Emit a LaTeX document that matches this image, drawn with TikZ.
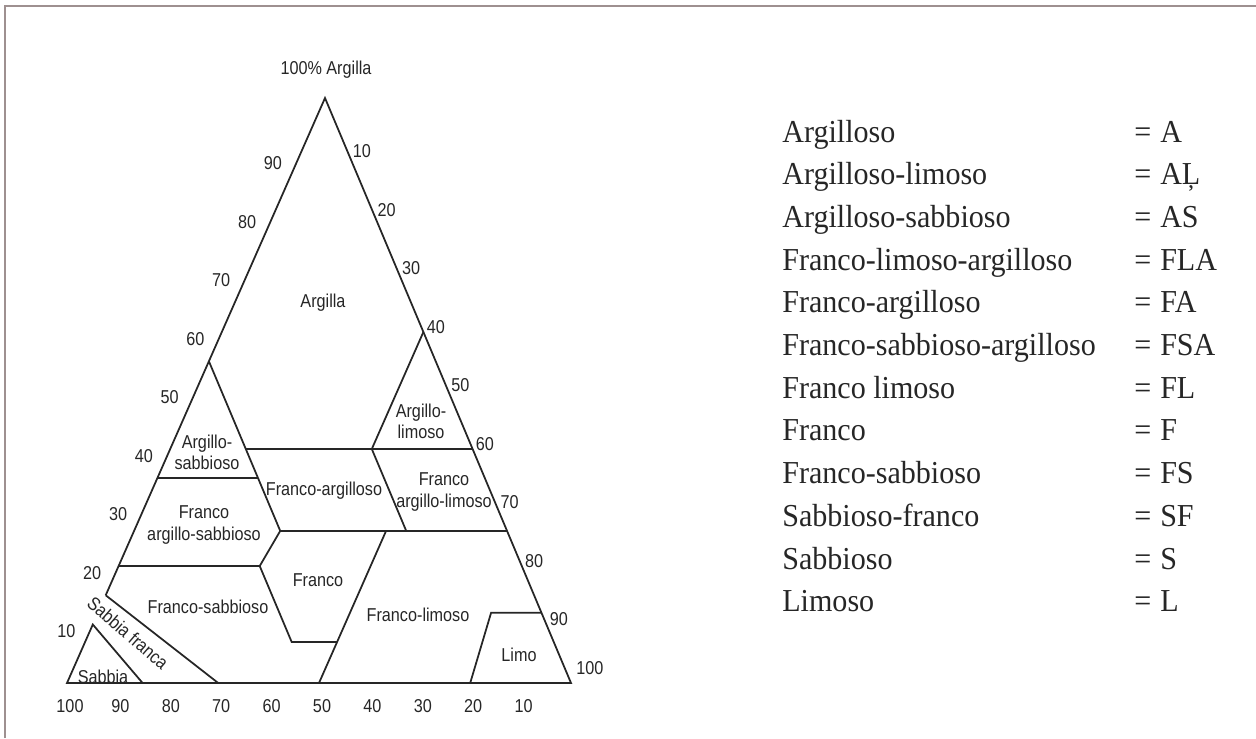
\documentclass[tikz,border=0pt]{standalone}
\usepackage{fontspec}
\setmainfont{Liberation Serif}[FakeStretch=0.94]
\newfontfamily\trifont{Liberation Sans}[FakeStretch=0.87]
\usepackage{tikz}
\usetikzlibrary{calc}
\definecolor{frameGrey}{RGB}{158,144,144}
\tikzstyle{soilBord}=[line width=1pt, line join=miter, color=black!85]
\tikzstyle{soilLabel}=[font=\trifont\fontsize{10.6}{12}\selectfont, align=center, inner sep=0pt, color=black!85]
\tikzstyle{axisNum}=[font=\trifont\fontsize{10.6}{12}\selectfont, inner sep=0pt, color=black!85]
\tikzstyle{legendName}=[font=\fontsize{18.2}{22}\selectfont, anchor=base west, inner sep=0pt, color=black!85]
\tikzstyle{frameLine}=[line width=0.4mm, color=frameGrey]

\begin{document}
\begin{tikzpicture}[x=0.2mm, y=-0.2mm]
      \useasboundingbox (0,0) rectangle (1256,738);
      \draw[frameLine] (5,738) -- (5,6) -- (1256,6);

      % corners: 100% argilla, sabbia, limo
      \coordinate (Cl) at (325,98);
      \coordinate (Sa) at (67,683);
      \coordinate (Li) at (571,683);

      % points on the sides (weights as fractions)
      \coordinate (s10) at (barycentric cs:Cl=.10,Sa=.90,Li=0);
      \coordinate (s15) at (barycentric cs:Cl=.15,Sa=.85,Li=0);
      \coordinate (s20) at (barycentric cs:Cl=.20,Sa=.80,Li=0);
      \coordinate (s35) at (barycentric cs:Cl=.35,Sa=.65,Li=0);
      \coordinate (s55) at (barycentric cs:Cl=.55,Sa=.45,Li=0);
      \coordinate (r60) at (barycentric cs:Cl=.60,Sa=0,Li=.40);
      \coordinate (r40) at (barycentric cs:Cl=.40,Sa=0,Li=.60);
      \coordinate (r27) at (barycentric cs:Cl=.26,Sa=0,Li=.74);
      \coordinate (r12) at (barycentric cs:Cl=.12,Sa=0,Li=.88);
      \coordinate (b85) at (barycentric cs:Cl=0,Sa=.85,Li=.15);
      \coordinate (b70) at (barycentric cs:Cl=0,Sa=.70,Li=.30);
      \coordinate (b50) at (barycentric cs:Cl=0,Sa=.50,Li=.50);
      \coordinate (b20) at (barycentric cs:Cl=0,Sa=.20,Li=.80);

      % inner corners
      \coordinate (p1) at (barycentric cs:Cl=.35,Sa=.45,Li=.20);
      \coordinate (p2) at (barycentric cs:Cl=.40,Sa=.45,Li=.15);
      \coordinate (p3) at (barycentric cs:Cl=.26,Sa=.45,Li=.29);
      \coordinate (p4) at (barycentric cs:Cl=.20,Sa=.52,Li=.28);
      \coordinate (p5) at (barycentric cs:Cl=.07,Sa=.52,Li=.41);
      \coordinate (p6) at (barycentric cs:Cl=.07,Sa=.43,Li=.50);
      \coordinate (p7) at (barycentric cs:Cl=.40,Sa=.20,Li=.40);
      \coordinate (p8) at (barycentric cs:Cl=.26,Sa=.20,Li=.54);
      \coordinate (p9) at (barycentric cs:Cl=.26,Sa=.24,Li=.50);
      \coordinate (p10) at (barycentric cs:Cl=.12,Sa=.10,Li=.78);

      \draw[soilBord] (s15) -- (Cl) -- (Li) -- (Sa) -- (s10) -- (b85);
      \draw[soilBord] (s15) -- (b70);
      \draw[soilBord] (s20) -- (p4) -- (p5) -- (p6);
      \draw[soilBord] (s55) -- (p1) -- (p3) -- (p4);
      \draw[soilBord] (s35) -- (p1);
      \draw[soilBord] (p2) -- (r40);
      \draw[soilBord] (r60) -- (p7) -- (p8);
      \draw[soilBord] (p3) -- (r27);
      \draw[soilBord] (p9) -- (b50);
      \draw[soilBord] (b20) -- (p10) -- (r12);

      % scales
      \node[axisNum] (top) at (326,70) {100\% Argilla};
      \foreach \c in {10,20,...,90}
        \node[axisNum, anchor=east] (cl\c) at ($(Sa)!{\c/100}!(Cl) + (-17,7)$) {\c};
      \foreach \l in {10,20,...,90}
        \node[axisNum, anchor=west] (li\l) at ($(Cl)!{\l/100}!(Li) + (3,-5)$) {\l};
      \node[axisNum, anchor=west] (li100) at ($(Li) + (5,-15)$) {100};
      \foreach \s in {100,90,...,10}
        \node[axisNum] (sa\s) at ($(Sa)!{(100-\s)/100}!(Li) + (3,23)$) {\s};

      % classes
      \node[soilLabel] (argilla) at (323,303) {Argilla};
      \node[soilLabel] (argLim) at (421,421) {Argillo-\\limoso};
      \node[soilLabel] (argSab) at (207,452) {Argillo-\\sabbioso};
      \node[soilLabel] (frArg) at (324,491) {Franco-argilloso};
      \node[soilLabel] (frArgLim) at (444,492) {Franco\\argillo-limoso};
      \node[soilLabel] (frArgSab) at (204,525) {Franco\\argillo-sabbioso};
      \node[soilLabel] (franco) at (318,580) {Franco};
      \node[soilLabel] (frSab) at (208,607) {Franco-sabbioso};
      \node[soilLabel] (frLim) at (418,615) {Franco-limoso};
      \node[soilLabel] (limo) at (519,655) {Limo};
      \node[soilLabel] (sabbia) at (103,677) {Sabbia};
      \node[soilLabel, rotate=-41] (sabFr) at (128,633) {Sabbia franca};

      % legend
      \foreach \nm/\cd [count=\i] in {Argilloso/A, Argilloso-limoso/AĻ,
          Argilloso-sabbioso/AS, Franco-limoso-argilloso/FLA,
          Franco-argilloso/FA, Franco-sabbioso-argilloso/FSA,
          Franco limoso/FL, Franco/F, Franco-sabbioso/FS,
          Sabbioso-franco/SF, Sabbioso/S, Limoso/L}
      {
        \pgfmathsetmacro\yy{142+42.7*(\i-1)}
        \node[legendName] (leg\i) at (782,\yy) {\nm};
        \node[legendName] (cod\i) at (1134,\yy) {=\hspace{0.28em}\cd};
      }
    \end{tikzpicture}
\end{document}
